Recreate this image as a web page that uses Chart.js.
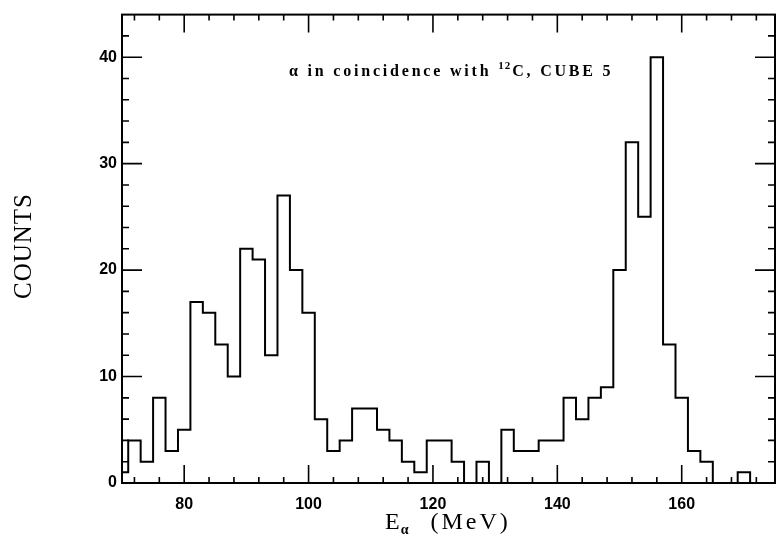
<!DOCTYPE html>
<html>
<head>
<meta charset="utf-8">
<script src="https://cdn.jsdelivr.net/npm/chart.js@4"></script>
<style>
  html, body { margin: 0; padding: 0; background: #fff; }
  #wrap { width: 777px; height: 544px; }
</style>
</head>
<body>
<div id="wrap"><canvas id="spectrum" width="777" height="544"></canvas></div>
<script>
// Bin edges (MeV) and counts per 2 MeV bin
const binEdges = [69, 71, 73, 75, 77, 79, 81, 83, 85, 87, 89, 91, 93, 95, 97, 99,
  101, 103, 105, 107, 109, 111, 113, 115, 117, 119, 121, 123, 125, 127, 129,
  131, 133, 135, 137, 139, 141, 143, 145, 147, 149, 151, 153, 155, 157, 159,
  161, 163, 165, 167, 169, 171, 173, 175];
const counts = [1, 4, 2, 8, 3, 5, 17, 16, 13, 10, 22, 21, 12, 27, 20, 16,
  6, 3, 4, 7, 7, 5, 4, 2, 1, 4, 4, 2, 0, 2, 0,
  5, 3, 3, 4, 4, 8, 6, 8, 9, 20, 32, 25, 40, 13, 8,
  3, 2, 0, 0, 1, 0, 0];

const xLabels = [80, 100, 120, 140, 160];
const yLabels = [0, 10, 20, 30, 40];

const X_MIN = 70, X_MAX = 175, Y_MAX = 44;
const tickFont = { family: 'Liberation Sans', size: 16, weight: 'bold' };

// step outline: point i+1 sits on the right edge of bin i, first one opens bin 0
const points = [{ x: binEdges[0], y: counts[0] }];
counts.forEach((c, i) => points.push({ x: binEdges[i + 1], y: c }));

// frame, inward ticks on all four sides, axis titles and the caption
const framePlugin = {
  id: 'frame',
  afterDraw(chart) {
    const { ctx, chartArea: a, scales: { x, y } } = chart;
    ctx.save();
    ctx.strokeStyle = '#000';
    ctx.lineWidth = 2;
    ctx.strokeRect(a.left, a.top, a.right - a.left, a.bottom - a.top);

    ctx.lineWidth = 1.6;
    ctx.beginPath();
    for (let v = 72; v < X_MAX; v += 4) {
      const px = x.getPixelForValue(v);
      const len = v % 20 === 0 ? 18 : 6;
      ctx.moveTo(px, a.bottom); ctx.lineTo(px, a.bottom - len);
      ctx.moveTo(px, a.top); ctx.lineTo(px, a.top + len);
    }
    for (let v = 2; v < Y_MAX; v += 2) {
      const py = y.getPixelForValue(v);
      const len = v % 10 === 0 ? 20 : 7;
      ctx.moveTo(a.left, py); ctx.lineTo(a.left + len, py);
      ctx.moveTo(a.right, py); ctx.lineTo(a.right - len, py);
    }
    ctx.stroke();

    ctx.fillStyle = '#000';
    ctx.textBaseline = 'alphabetic';

    // caption inside the plot
    ctx.font = 'bold 16px "Liberation Serif"';
    ctx.letterSpacing = '2.8px';
    let cx = 289;
    const cy = 76;
    const part1 = 'α in coincidence with ';
    ctx.fillText(part1, cx, cy);
    cx += ctx.measureText(part1).width;
    ctx.font = 'bold 11px "Liberation Serif"';
    ctx.letterSpacing = '1px';
    ctx.fillText('12', cx, cy - 7);
    cx += ctx.measureText('12').width + 1;
    ctx.font = 'bold 16px "Liberation Serif"';
    ctx.letterSpacing = '2.8px';
    ctx.fillText('C, CUBE 5', cx, cy);

    // x axis title with subscript alpha
    ctx.font = '24px "Liberation Serif"';
    ctx.letterSpacing = '2px';
    let tx = 385;
    const ty = 529;
    ctx.fillText('E', tx, ty);
    tx += ctx.measureText('E').width - 1;
    ctx.font = 'bold 14px "Liberation Serif"';
    ctx.fillText('α', tx, ty + 5);
    tx += ctx.measureText('α').width + 20;
    ctx.font = '24px "Liberation Serif"';
    ctx.letterSpacing = '3px';
    ctx.fillText('(MeV)', tx, ty);

    // y axis title
    ctx.save();
    ctx.translate(31, 246);
    ctx.rotate(-Math.PI / 2);
    ctx.textAlign = 'center';
    ctx.letterSpacing = '1px';
    ctx.font = '25px "Liberation Serif"';
    ctx.fillText('COUNTS', 0, 0);
    ctx.restore();

    ctx.restore();
  }
};

new Chart(document.getElementById('spectrum'), {
  type: 'line',
  data: {
    datasets: [{
      data: points,
      stepped: 'after',
      borderColor: '#000',
      borderWidth: 2,
      pointRadius: 0,
      fill: false,
    }],
  },
  options: {
    responsive: false,
    animation: false,
    devicePixelRatio: 1,
    layout: { padding: { top: 13, right: 2, left: 0, bottom: 0 } },
    plugins: {
      legend: { display: false },
      tooltip: { enabled: false },
    },
    scales: {
      x: {
        type: 'linear',
        min: X_MIN,
        max: X_MAX,
        grid: { display: false, drawTicks: false },
        border: { display: false },
        afterBuildTicks: s => { s.ticks = xLabels.map(v => ({ value: v })); },
        afterFit: s => { s.height = 61; },
        ticks: { color: '#000', font: tickFont, padding: 12, maxRotation: 0 },
      },
      y: {
        min: 0,
        max: Y_MAX,
        grid: { display: false, drawTicks: false },
        border: { display: false },
        afterBuildTicks: s => { s.ticks = yLabels.map(v => ({ value: v })); },
        afterFit: s => { s.width = 122; },
        ticks: { color: '#000', font: tickFont, padding: 5 },
      },
    },
  },
  plugins: [framePlugin],
});
</script>
</body>
</html>
